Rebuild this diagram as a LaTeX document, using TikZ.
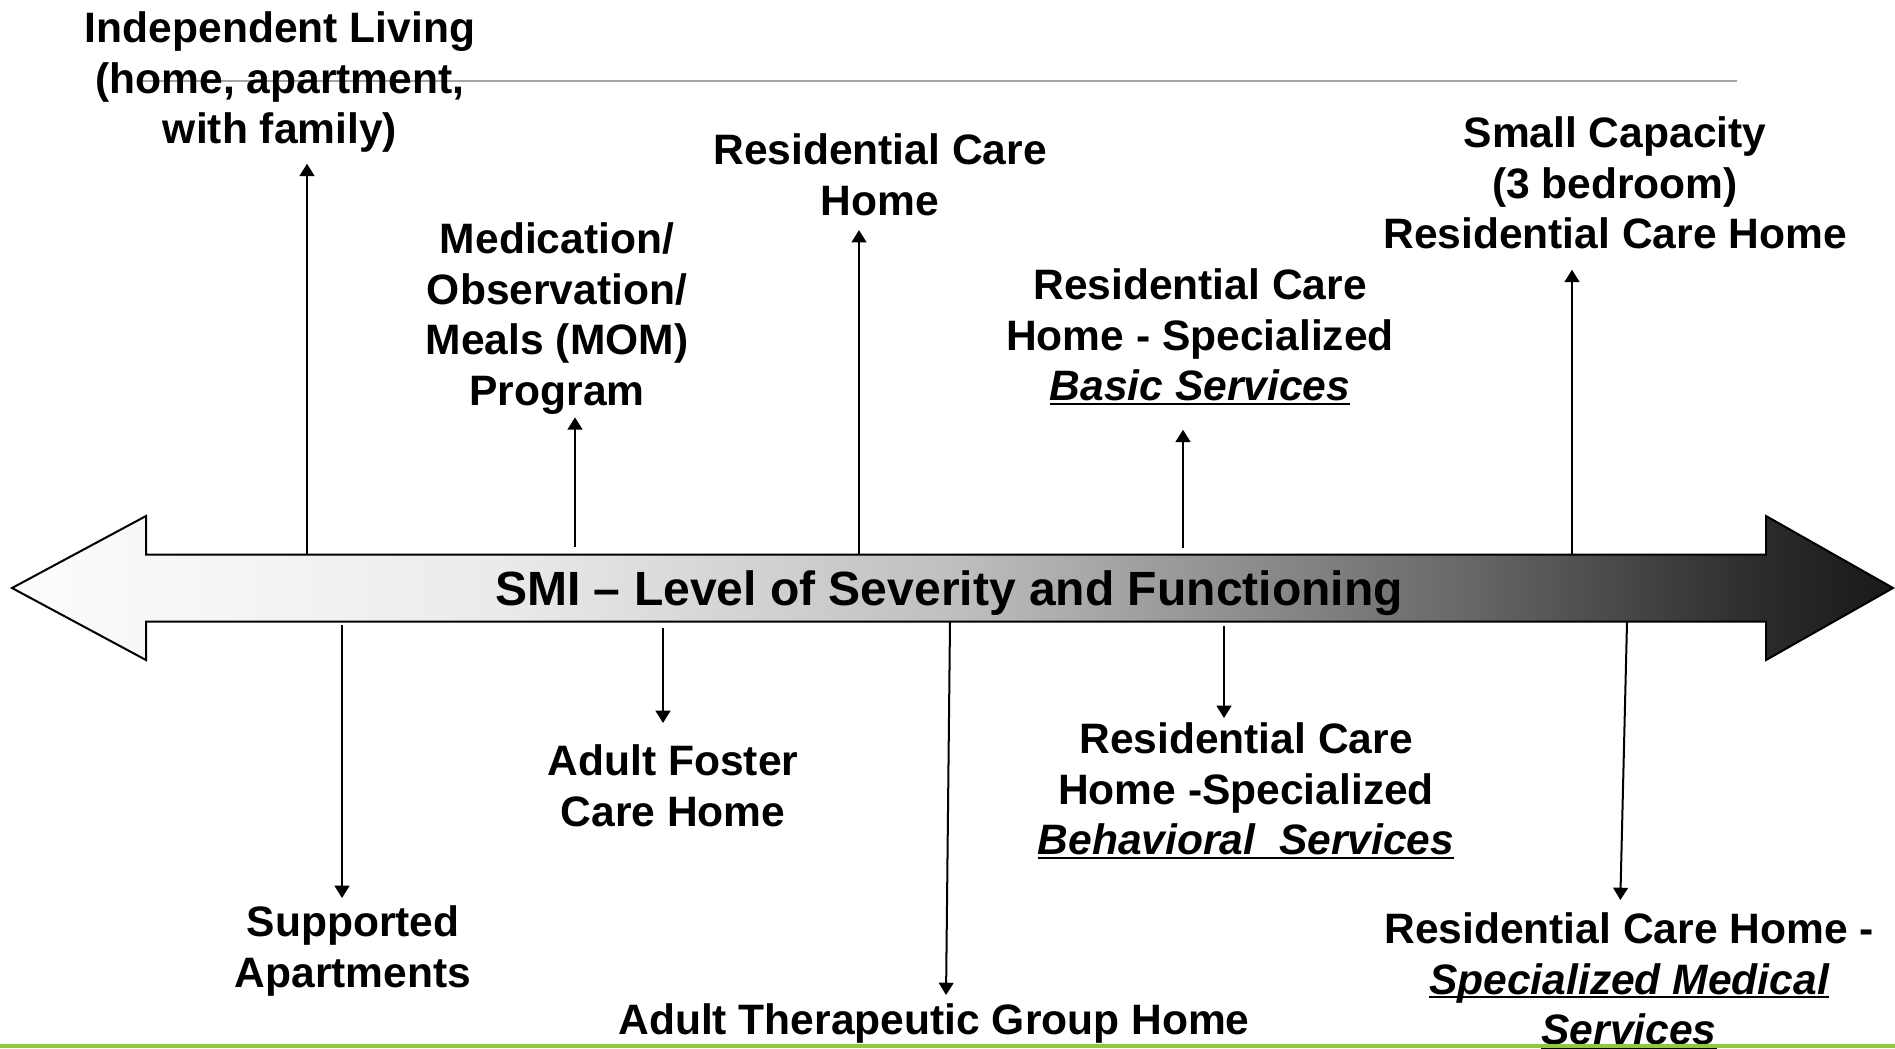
\documentclass[tikz,border=0pt]{standalone}
\usepackage{fontspec}
\setmainfont{Liberation Sans}
\usetikzlibrary{arrows.meta}
\definecolor{sevA}{gray}{0.99}
\definecolor{sevB}{gray}{0.92}
\definecolor{sevC}{gray}{0.75}
\definecolor{sevD}{gray}{0.41}
\definecolor{sevE}{gray}{0.17}
\definecolor{sevF}{gray}{0.10}
\definecolor{rulegray}{RGB}{166,166,166}
\definecolor{slidegreen}{RGB}{146,200,62}
\pgfdeclarehorizontalshading{severity}{100bp}{color(0bp)=(sevA); color(25bp)=(sevA); color(38bp)=(sevB); color(50bp)=(sevC); color(63.5bp)=(sevD); color(71.5bp)=(sevE); color(75bp)=(sevF); color(100bp)=(sevF)}
\newsavebox{\ulbox}
\newcommand{\ulit}[1]{\sbox{\ulbox}{\itshape #1}\rlap{\rule[-0.1em]{\wd\ulbox}{0.05em}}\usebox{\ulbox}}
\begin{document}
\begin{tikzpicture}[
		x=0.01cm, y=-0.01cm,
		homebox/.style={font=\fontsize{12.1}{14.4}\selectfont\bfseries, align=center, inner sep=0pt, anchor=north,
				execute at begin node=\strut, execute at end node=\strut},
		conn/.style={line width=0.57pt, -{Triangle[length=3.5pt,width=4.2pt]}}
	]
	\useasboundingbox (0,0) rectangle (1895,1048);
	\draw[rulegray, line width=0.57pt] (140,81) -- (1737,81);
	% severity arrow
	\shadedraw[shading=severity, draw=black, line width=0.57pt]
	(12,588) -- (146,516) -- (146,554.5) -- (1766,554.5) -- (1766,516) -- (1893,588)
	-- (1766,660) -- (1766,621.5) -- (146,621.5) -- (146,660) -- cycle;
	\node[font=\fontsize{13.66}{16}\selectfont\bfseries, anchor=base] (sev) at (949,605) {SMI – Level of Severity and Functioning};
	% above the arrow
	\node[homebox] (indep) at (280,11) {Independent Living\\(home, apartment,\\with family)};
	\node[homebox] (momprog) at (557,222) {Medication/\\Observation/\\Meals (MOM)\\Program};
	\node[homebox] (rcare) at (880,133) {Residential Care\\Home};
	\node[homebox] (rbasic) at (1200,268) {Residential Care\\Home - Specialized\\\ulit{Basic Services}};
	\node[homebox] (rsmall) at (1615,116) {Small Capacity\\(3 bedroom)\\Residential Care Home};
	% below the arrow
	\node[homebox] (supapt) at (353,905) {Supported\\Apartments};
	\node[homebox] (afoster) at (673,744) {Adult Foster\\Care Home};
	\node[homebox] (atgroup) at (934,998) {Adult Therapeutic Group Home};
	\node[homebox] (rbehav) at (1246,722) {Residential Care\\Home -Specialized\\\ulit{Behavioral\ \ Services}};
	\node[homebox] (rmedical) at (1629,912) {Residential Care Home -\\\ulit{Specialized Medical}\\\ulit{Services}};
	% connectors
	\coordinate (indepbase) at (307,554.5);
	\coordinate (mombase) at (575,547);
	\coordinate (rcarebase) at (859,554.5);
	\coordinate (rbasicbase) at (1183,548);
	\coordinate (rsmallbase) at (1572,554.5);
	\coordinate (supaptbase) at (342,625);
	\coordinate (afosterbase) at (663,628);
	\coordinate (atgroupbase) at (950,621.5);
	\coordinate (atgrouptip) at (946,0);
	\coordinate (rbehavbase) at (1224,626);
	\coordinate (rmedicalbase) at (1627,621.5);
	\coordinate (rmedicaltip) at (1620,0);
	\draw[conn, shorten >=0.04cm] (indepbase) -- (indepbase |- indep.south);
	\draw[conn, shorten >=-0.04cm] (mombase) -- (mombase |- momprog.south);
	\draw[conn, shorten >=-0.01cm] (rcarebase) -- (rcarebase |- rcare.south);
	\draw[conn, shorten >=0.13cm] (rbasicbase) -- (rbasicbase |- rbasic.south);
	\draw[conn, shorten >=0.05cm] (rsmallbase) -- (rsmallbase |- rsmall.south);
	\draw[conn, shorten >=0.07cm] (supaptbase) -- (supaptbase |- supapt.north);
	\draw[conn, shorten >=0.21cm] (afosterbase) -- (afosterbase |- afoster.north);
	\draw[conn, shorten >=0.03cm] (atgroupbase) -- (atgrouptip |- atgroup.north);
	\draw[conn, shorten >=0.04cm] (rbehavbase) -- (rbehavbase |- rbehav.north);
	\draw[conn, shorten >=0.12cm] (rmedicalbase) -- (rmedicaltip |- rmedical.north);
	\draw[slidegreen, line width=0.04cm] (0,1046) -- (1895,1046);
\end{tikzpicture}
\end{document}
